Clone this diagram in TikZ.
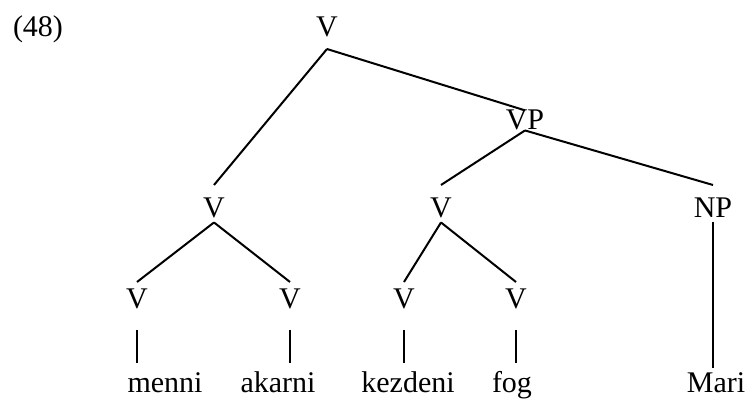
\documentclass[tikz,border=0pt]{standalone}
\usepackage{fontspec}
\setmainfont{Liberation Serif}

\begin{document}
\begin{tikzpicture}[x=1pt,y=-1pt]
   \tikzstyle{every node}=[inner sep=0pt, outer sep=4pt, anchor=base, font=\fontsize{30}{36}\selectfont]
   \tikzstyle{apex}=[text depth=8pt]
   \tikzstyle{phrase}=[text height=29pt]
   \tikzstyle{head}=[text height=22pt, text depth=18pt]
   \tikzstyle{word}=[text height=25pt]
   \tikzstyle{branch}=[line width=2pt]

\useasboundingbox (0,0) rectangle (753,401);

\node (ex) at (38,37) {(48)};
\node[apex] (s) at (327,37) {V};
\node[outer sep=0pt] (vp) at (525,130) {VP};
\node[phrase] (va) at (214,218) {V};
\node[phrase] (vb) at (441,218) {V};
\node[phrase] (np) at (713,218) {NP};
\node[head] (va1) at (137,308) {V};
\node[head] (va2) at (290,308) {V};
\node[head] (vb1) at (404,308) {V};
\node[head] (vb2) at (516,308) {V};
\node[word] (menni) at (165,392) {menni};
\node[word] (akarni) at (278,392) {akarni};
\node[word] (kezdeni) at (408,392) {kezdeni};
\node[word] (fog) at (512,392) {fog};
\node (mari) at (716,392) {Mari};

\draw[branch] (s.south) -- (va.north);
\draw[branch] (s.south) -- (vp.north);
\draw[branch] (vp.south) -- (vb.north);
\draw[branch] (vp.south) -- (np.north);
\foreach \a/\b in {va/va1, va/va2, vb/vb1, vb/vb2}
    \draw[branch] (\a.south) -- (\b.north);
\foreach \v/\w in {va1/menni, va2/akarni, vb1/kezdeni, vb2/fog}
    \draw[branch] (\v.south) -- (\v.south |- \w.north);
\draw[branch] (np.south) -- (np.south |- mari.north);

\end{tikzpicture}
\end{document}
